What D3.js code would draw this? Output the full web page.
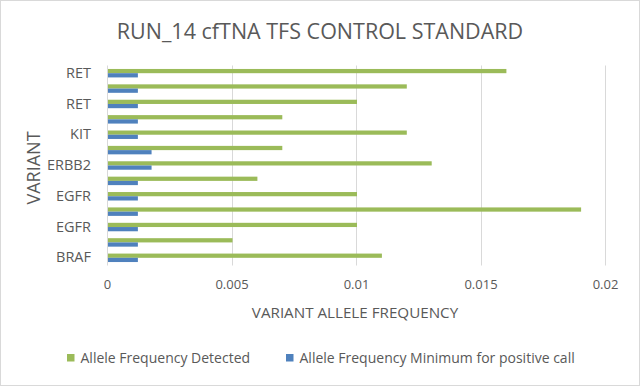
<!DOCTYPE html>
<html>
<head>
<meta charset="utf-8">
<script src="https://cdn.jsdelivr.net/npm/d3@7"></script>
<style>
  body { margin: 0; background: #fff; }
  text { font-family: "Open Sans", Lato, sans-serif; fill: #595959; }
</style>
</head>
<body>
<div id="chart-area"></div>
<script>
// Data, bottom to top (as Excel draws it)
var variants = ["BRAF", "EGFR", "EGFR", "EGFR", "EGFR", "ERBB2", "ERBB2", "KIT", "KIT", "RET", "RET", "RET", "RET"];
var detected = [0.011, 0.005, 0.010, 0.019, 0.010, 0.006, 0.013, 0.007, 0.012, 0.007, 0.010, 0.012, 0.016];
var minimum  = [0.0012, 0.0012, 0.0012, 0.0012, 0.0012, 0.0012, 0.00175, 0.00175, 0.0012, 0.0012, 0.0012, 0.0012, 0.0012];
var seriesNames = ["Allele Frequency Detected", "Allele Frequency Minimum for positive call"];
var xTicks = [0, 0.005, 0.01, 0.015, 0.02];

var colors = ["#9bbb59", "#4f81bd"];

var W = 640, H = 386;
var margin = { left: 107, right: 35, top: 65.5, bottom: 120.5 };
var width = W - margin.left - margin.right,
    height = H - margin.top - margin.bottom;

var svg = d3.select("#chart-area")
    .append("svg")
        .attr("width", W)
        .attr("height", H);

// chart border
svg.append("rect")
    .attr("x", 0.5).attr("y", 0.5)
    .attr("width", W - 1).attr("height", H - 1)
    .attr("fill", "#fff")
    .attr("stroke", "#d9d9d9");

var g = svg.append("g")
    .attr("transform", "translate(" + margin.left + ", " + margin.top + ")");

// X Scale
var x = d3.scaleLinear()
    .domain([0, 0.02])
    .range([0, 498]);

// Y Scale (index based; labels come from variants)
var idx = d3.range(variants.length);
var y = d3.scaleBand()
    .domain(idx.slice().reverse())
    .range([0, height])
    .paddingInner(0.45)
    .paddingOuter(0.225);

var ySub = d3.scaleBand()
    .domain([0, 1])
    .range([0, y.bandwidth()]);

// gridlines
g.selectAll(".grid")
    .data(xTicks.slice(1))
    .enter().append("line")
        .attr("x1", function(d){ return Math.round(x(d)) + 0.5; })
        .attr("x2", function(d){ return Math.round(x(d)) + 0.5; })
        .attr("y1", 0)
        .attr("y2", height)
        .attr("stroke", "#d9d9d9");

// X Axis
var xAxisCall = d3.axisBottom(x)
    .tickValues(xTicks)
    .tickSize(0)
    .tickPadding(14)
    .tickFormat(function(d){ return d; });
var xAxisGroup = g.append("g")
    .attr("transform", "translate(0," + height + ")")
    .call(xAxisCall);
xAxisGroup.select(".domain").remove();
xAxisGroup.selectAll("text")
    .attr("font-size", "13px")
    .attr("fill", "#595959");

// Y Axis - Excel shows every other label
var yAxisCall = d3.axisLeft(y)
    .tickValues(idx.filter(function(i){ return i % 2 === 0; }))
    .tickSize(0)
    .tickPadding(16)
    .tickFormat(function(i){ return variants[i]; });
var yAxisGroup = g.append("g")
    .call(yAxisCall);
yAxisGroup.select(".domain")
    .attr("stroke", "#d9d9d9")
    .attr("d", "M0.5,0V" + height);
yAxisGroup.selectAll("text")
    .attr("font-size", "14.5px")
    .attr("fill", "#595959");

// Bars
var groups = g.selectAll(".grp")
    .data(idx)
    .enter().append("g")
        .attr("transform", function(i){ return "translate(1," + y(i) + ")"; });

groups.append("rect")
    .attr("y", ySub(0))
    .attr("height", ySub.bandwidth())
    .attr("width", function(i){ return x(detected[i]); })
    .attr("fill", colors[0]);

groups.append("rect")
    .attr("y", ySub(1))
    .attr("height", ySub.bandwidth())
    .attr("width", function(i){ return x(minimum[i]); })
    .attr("fill", colors[1]);

// Title
svg.append("text")
    .attr("x", 320)
    .attr("y", 39)
    .attr("font-size", "21.5px")
    .attr("text-anchor", "middle")
    .text("RUN_14 cfTNA TFS CONTROL STANDARD");

// X Label
svg.append("text")
    .attr("x", 355)
    .attr("y", 318)
    .attr("font-size", "15.2px")
    .attr("text-anchor", "middle")
    .text("VARIANT ALLELE FREQUENCY");

// Y Label
svg.append("text")
    .attr("x", -168)
    .attr("y", 40)
    .attr("font-size", "18px")
    .attr("text-anchor", "middle")
    .attr("transform", "rotate(-90)")
    .text("VARIANT");

// Legend
var legendX = [67, 286];
var legend = svg.selectAll(".legend")
    .data(seriesNames)
    .enter().append("g")
        .attr("transform", function(d, i){ return "translate(" + legendX[i] + ",354)"; });
legend.append("rect")
    .attr("width", 7.5).attr("height", 7.5)
    .attr("fill", function(d, i){ return colors[i]; });
legend.append("text")
    .attr("x", 13.5)
    .attr("y", 8.7)
    .attr("font-size", "14px")
    .text(function(d){ return d; });
</script>
</body>
</html>
